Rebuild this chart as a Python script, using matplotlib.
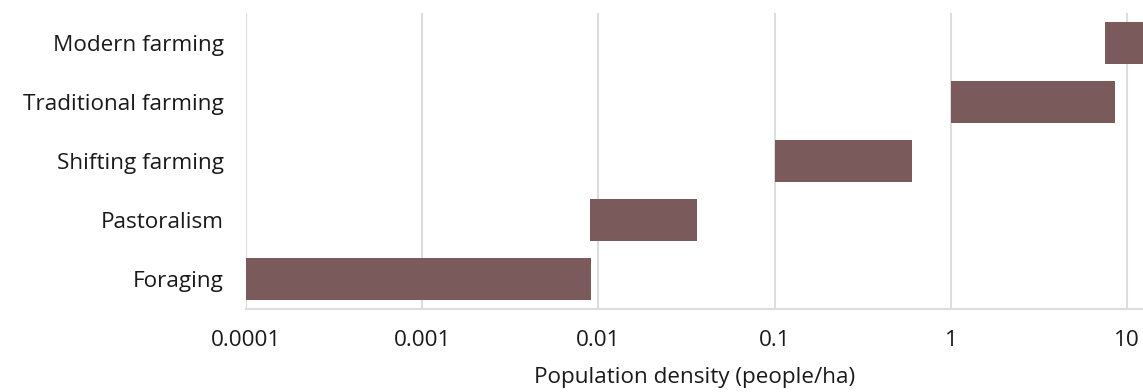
import matplotlib.pyplot as plt
import numpy as np

plt.rcParams['font.family'] = ['Open Sans', 'DejaVu Sans']

############################################
## Data
############################################

categories = ["Foraging", "Pastoralism", "Shifting farming", "Traditional farming", "Modern farming"]
density_low = [0.0001, 0.009, 0.1, 1, 7.5]
density_high = [0.0091, 0.036, 0.6, 8.5, 100]
tick_values = [0.0001, 0.001, 0.01, 0.1, 1, 10]
tick_labels = ["0.0001", "0.001", "0.01", "0.1", "1", "10"]

############################################
## Plot
############################################

fig = plt.figure(figsize=(11.43, 3.92), dpi=100)
ax = fig.add_axes([246 / 1143, 1 - 309 / 392, 1 - 246 / 1143, 296 / 392])

y = np.arange(len(categories))
widths = np.array(density_high) - np.array(density_low)
ax.barh(y, widths, left=density_low, height=0.71, color="#7a5a5a", zorder=3)

ax.set_xscale("log")
ax.set_xlim(0.0001, 12.3)
ax.set_ylim(-0.5, 4.5)
ax.set_xticks(tick_values)
ax.set_xticklabels(tick_labels)
ax.minorticks_off()
ax.set_yticks(y)
ax.set_yticklabels(categories)

ax.grid(axis="x", color="#dddddd", linewidth=1.5, zorder=0)
for s in ["top", "right", "left"]:
    ax.spines[s].set_visible(False)
ax.spines["bottom"].set_color("#dddddd")
ax.spines["bottom"].set_linewidth(1.5)
ax.tick_params(axis="both", length=0, labelsize=16.2, colors="#1a1a1a")
ax.tick_params(axis="x", pad=15)
ax.tick_params(axis="y", pad=16)
ax.set_xlabel("Population density (people/ha)", fontsize=16.2, color="#1a1a1a", labelpad=12)

fig.savefig("out.png", dpi=100)
